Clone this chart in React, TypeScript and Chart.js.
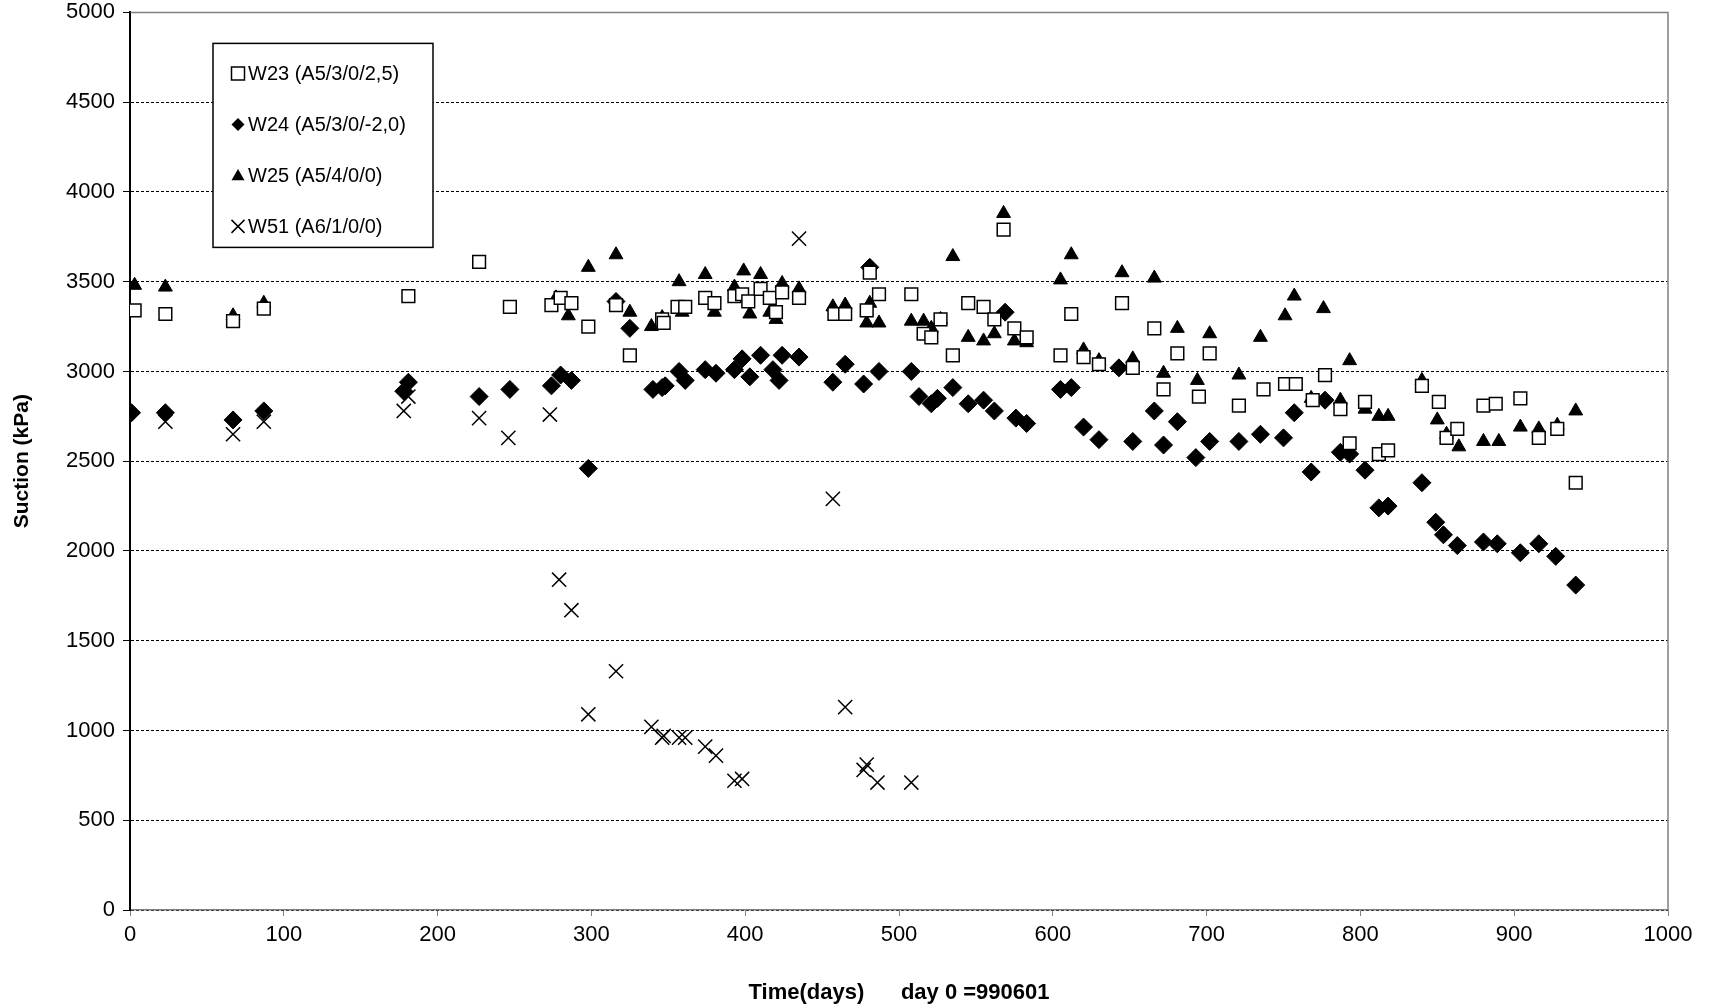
import { useEffect, useRef } from "react"
import { Chart, registerables } from "chart.js"

Chart.register(...registerables)

const w23Days = [3, 23, 67, 87, 181, 227, 247, 274, 280, 287, 298, 316, 325, 346, 347, 356, 361, 374, 380, 393, 398, 402, 410, 416, 420, 424, 435, 458, 465, 479, 481, 487, 508, 516, 521, 527, 535, 545, 555, 562, 568, 575, 583, 605, 612, 620, 630, 645, 652, 666, 672, 681, 695, 702, 721, 737, 751, 758, 769, 777, 787, 793, 803, 812, 818, 840, 851, 856, 863, 880, 888, 904, 916, 928, 940]
const w23Values = [3340, 3320, 3280, 3350, 3420, 3610, 3360, 3370, 3410, 3380, 3250, 3370, 3090, 3290, 3270, 3360, 3360, 3410, 3380, 3420, 3430, 3390, 3460, 3410, 3330, 3440, 3410, 3320, 3320, 3340, 3550, 3430, 3430, 3210, 3190, 3290, 3090, 3380, 3360, 3290, 3790, 3240, 3190, 3090, 3320, 3080, 3040, 3380, 3020, 3240, 2900, 3100, 2860, 3100, 2810, 2900, 2930, 2930, 2840, 2980, 2790, 2600, 2830, 2540, 2560, 2920, 2830, 2630, 2680, 2810, 2820, 2850, 2630, 2680, 2380]

const w24Days = [1, 23, 67, 87, 178, 181, 227, 247, 274, 280, 287, 298, 316, 325, 340, 346, 348, 357, 361, 374, 381, 393, 398, 403, 410, 418, 422, 424, 435, 457, 465, 477, 481, 487, 508, 513, 521, 525, 535, 545, 555, 562, 569, 576, 583, 605, 612, 620, 630, 643, 652, 666, 672, 681, 693, 702, 721, 735, 750, 757, 768, 777, 787, 793, 803, 812, 818, 840, 849, 854, 863, 880, 889, 904, 916, 927, 940]
const w24Values = [2770, 2770, 2730, 2780, 2890, 2940, 2860, 2900, 2920, 2980, 2950, 2460, 3390, 3240, 2900, 2910, 2920, 3000, 2950, 3010, 2990, 3010, 3070, 2970, 3090, 3010, 2950, 3090, 3080, 2940, 3040, 2930, 3580, 3000, 3000, 2860, 2820, 2850, 2910, 2820, 2840, 2780, 3330, 2740, 2710, 2900, 2910, 2690, 2620, 3020, 2610, 2780, 2590, 2720, 2520, 2610, 2610, 2650, 2630, 2770, 2440, 2840, 2550, 2540, 2450, 2240, 2250, 2380, 2160, 2090, 2030, 2050, 2040, 1990, 2040, 1970, 1810]

const w25Days = [3, 23, 67, 87, 277, 285, 298, 316, 325, 339, 346, 357, 359, 374, 380, 393, 399, 403, 410, 416, 420, 424, 435, 457, 465, 479, 481, 487, 508, 516, 521, 527, 535, 545, 555, 562, 568, 575, 583, 605, 612, 620, 630, 645, 652, 666, 672, 681, 694, 702, 721, 735, 751, 757, 768, 776, 787, 793, 803, 812, 818, 840, 850, 856, 864, 880, 890, 904, 916, 928, 940]
const w25Values = [3480, 3470, 3310, 3380, 3410, 3310, 3580, 3650, 3330, 3250, 3300, 3500, 3330, 3540, 3330, 3470, 3560, 3320, 3540, 3330, 3290, 3490, 3460, 3360, 3370, 3270, 3380, 3270, 3280, 3280, 3240, 3290, 3640, 3190, 3170, 3210, 3880, 3170, 3160, 3510, 3650, 3120, 3060, 3550, 3070, 3520, 2990, 3240, 2950, 3210, 2980, 3190, 3310, 3420, 2850, 3350, 2840, 3060, 2790, 2750, 2750, 2950, 2730, 2650, 2580, 2610, 2610, 2690, 2680, 2700, 2780]

const w51Days = [23, 67, 87, 178, 181, 227, 246, 273, 279, 287, 298, 316, 339, 346, 347, 357, 361, 374, 381, 393, 398, 435, 457, 465, 477, 479, 486, 508]
const w51Values = [2720, 2650, 2720, 2780, 2860, 2740, 2630, 2760, 1840, 1670, 1090, 1330, 1020, 960, 970, 960, 960, 910, 860, 720, 730, 3740, 2290, 1130, 780, 810, 710, 710]

const seriesNames = ["W23 (A5/3/0/2,5)", "W24 (A5/3/0/-2,0)", "W25 (A5/4/0/0)", "W51 (A6/1/0/0)"]

const toPoints = (days: number[], values: number[]) => days.map((d, i) => ({ x: d, y: values[i] }))

const font = "Liberation Sans, Arial, sans-serif"

// draws one legend symbol by hand
function drawMarker(ctx: CanvasRenderingContext2D, style: string, x: number, y: number, r: number) {
  ctx.save()
  ctx.strokeStyle = "#000"
  ctx.fillStyle = "#000"
  ctx.lineWidth = 1.5
  ctx.beginPath()
  if (style === "rect") {
    ctx.fillStyle = "#fff"
    ctx.rect(x - r, y - r, 2 * r, 2 * r)
    ctx.fill()
    ctx.stroke()
  } else if (style === "rectRot") {
    ctx.moveTo(x, y - r); ctx.lineTo(x + r, y); ctx.lineTo(x, y + r); ctx.lineTo(x - r, y); ctx.closePath()
    ctx.fill()
  } else if (style === "triangle") {
    ctx.moveTo(x, y - r); ctx.lineTo(x + r, y + r * 0.75); ctx.lineTo(x - r, y + r * 0.75); ctx.closePath()
    ctx.fill()
  } else {
    ctx.moveTo(x - r, y - r); ctx.lineTo(x + r, y + r); ctx.moveTo(x + r, y - r); ctx.lineTo(x - r, y + r)
    ctx.stroke()
  }
  ctx.restore()
}

const legendBox = {
  id: "legendBox",
  afterDraw(chart: Chart) {
    const ctx = chart.ctx
    const area = chart.chartArea
    const x0 = area.left + 83
    const y0 = area.top + 31
    ctx.save()
    ctx.fillStyle = "#fff"
    ctx.fillRect(x0, y0, 220, 204)
    ctx.strokeStyle = "#000"
    ctx.lineWidth = 1.5
    ctx.strokeRect(x0, y0, 220, 204)
    ctx.font = `20px ${font}`
    ctx.textBaseline = "middle"
    chart.data.datasets.forEach((ds: any, i: number) => {
      const cy = y0 + 30 + i * 51
      drawMarker(ctx, ds.pointStyle, x0 + 25, cy, 6.5)
      ctx.fillStyle = "#000"
      ctx.fillText(ds.label, x0 + 35, cy + 1)
    })
    ctx.restore()
  },
}

const frame = {
  id: "frame",
  beforeDatasetsDraw(chart: Chart) {
    const { ctx, chartArea: a } = chart
    ctx.save()
    ctx.strokeStyle = "#808080"
    ctx.lineWidth = 1.5
    ctx.beginPath()
    ctx.moveTo(a.left, a.top)
    ctx.lineTo(a.right, a.top)
    ctx.lineTo(a.right, a.bottom)
    ctx.stroke()
    ctx.strokeStyle = "#000"
    ctx.lineWidth = 2
    ctx.beginPath()
    ctx.moveTo(a.left, a.top)
    ctx.lineTo(a.left, a.bottom)
    ctx.stroke()
    ctx.restore()
  },
}

export default function App() {
  const canvasRef = useRef<HTMLCanvasElement>(null)

  useEffect(() => {
    if (!canvasRef.current) return
    const chart = new Chart(canvasRef.current, {
      type: "scatter",
      data: {
        datasets: [
          { label: seriesNames[0], data: toPoints(w23Days, w23Values), pointStyle: "rect", pointRadius: 9, backgroundColor: "#fff", borderColor: "#000", borderWidth: 1.5 },
          { label: seriesNames[1], data: toPoints(w24Days, w24Values), pointStyle: "rectRot", pointRadius: 9, backgroundColor: "#000", borderColor: "#000", borderWidth: 1 },
          { label: seriesNames[2], data: toPoints(w25Days, w25Values), pointStyle: "triangle", pointRadius: 8, backgroundColor: "#000", borderColor: "#000", borderWidth: 1 },
          { label: seriesNames[3], data: toPoints(w51Days, w51Values), pointStyle: "crossRot", pointRadius: 10, backgroundColor: "#000", borderColor: "#000", borderWidth: 1.5 },
        ],
      },
      options: {
        animation: false,
        responsive: true,
        maintainAspectRatio: false,
        layout: { padding: { top: 4, right: 42, bottom: 0, left: 0 } },
        plugins: { legend: { display: false }, tooltip: { enabled: false } },
        scales: {
          x: {
            type: "linear",
            min: 0,
            max: 1000,
            afterFit: (axis: any) => { axis.height = 98 },
            ticks: { stepSize: 100, color: "#000", font: { size: 22, family: font }, padding: 6, callback: (v: any) => String(v) },
            grid: { display: true, drawOnChartArea: false, tickLength: 6, color: "#808080" },
            border: { color: "#808080", width: 1.5 },
            title: { display: true, text: "Time(days)      day 0 =990601", color: "#000", font: { size: 22, weight: "bold", family: font }, padding: { top: 12, bottom: 2 } },
          },
          y: {
            min: 0,
            max: 5000,
            afterFit: (axis: any) => { axis.width = 130 },
            ticks: { stepSize: 500, color: "#000", font: { size: 22, family: font, lineHeight: 0.4 }, padding: 8, callback: (v: any) => String(v) },
            grid: { color: "#000", lineWidth: 1, tickLength: 7, tickColor: "#000", drawOnChartArea: true },
            border: { color: "#000", width: 2, dash: [3, 2] },
            title: { display: true, text: "Suction (kPa)", color: "#000", font: { size: 21, weight: "bold", family: font }, padding: { bottom: 4, top: 10 } },
          },
        },
      },
      plugins: [legendBox, frame],
    })
    return () => chart.destroy()
  }, [])

  return (
    <div style={{ position: "absolute", left: 0, top: 0, width: 1710, height: 1008, background: "#fff" }}>
      <canvas ref={canvasRef}></canvas>
    </div>
  )
}
